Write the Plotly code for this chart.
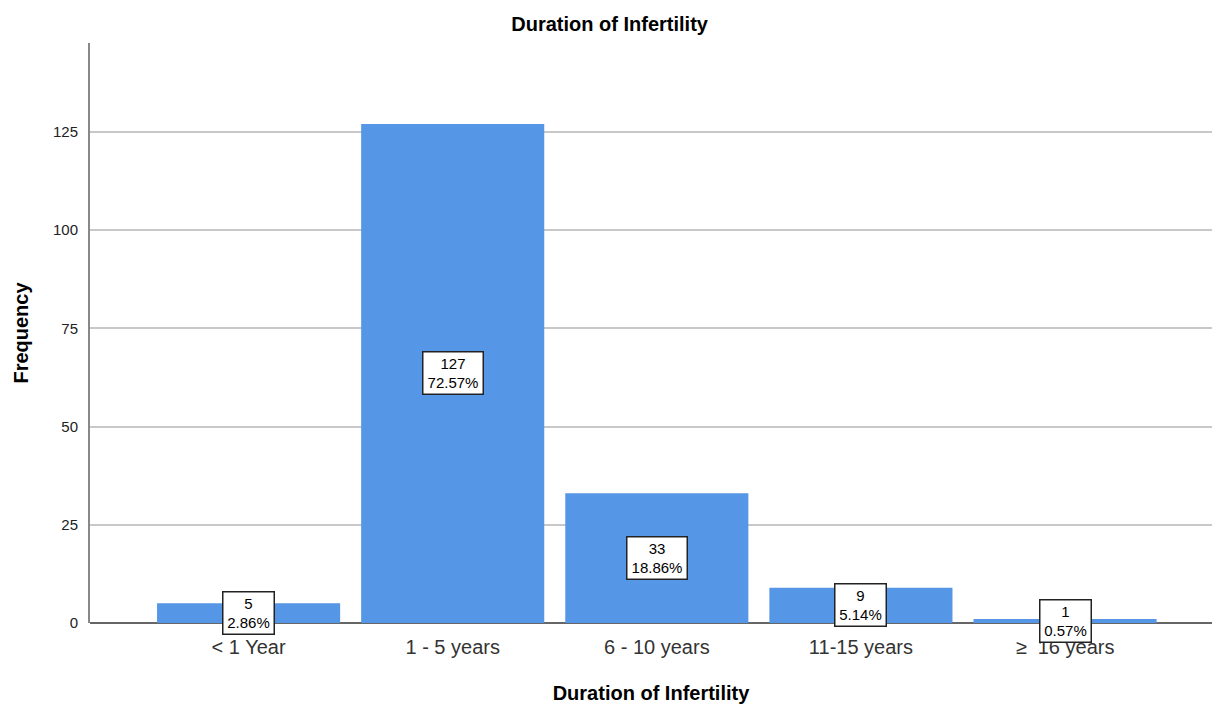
import plotly.graph_objects as go

categories = ["< 1 Year", "1 - 5 years", "6 - 10 years", "11-15 years", "≥  16 years"]
counts = [5, 127, 33, 9, 1]
percents = ["2.86%", "72.57%", "18.86%", "5.14%", "0.57%"]
y_ticks = [0, 25, 50, 75, 100, 125]

FONT = "Liberation Sans, Arial, sans-serif"

fig = go.Figure()
fig.add_trace(go.Bar(
    x=list(range(len(categories))),
    y=counts,
    width=0.897,
    marker=dict(color="#5596E6", line=dict(width=0)),
    hoverinfo="skip",
))

for i, (c, p) in enumerate(zip(counts, percents)):
    fig.add_annotation(
        x=i, y=c / 2, xref="x", yref="y",
        text=f"{c}<br>{p}", showarrow=False,
        width=9 * len(p) + 1,
        font=dict(family=FONT, size=15, color="#000000"),
        bgcolor="#ffffff", bordercolor="#222222", borderwidth=1.5, borderpad=2,
    )

fig.update_layout(
    width=1212, height=705,
    margin=dict(l=90, r=0, t=43, b=82),
    plot_bgcolor="#ffffff", paper_bgcolor="#ffffff",
    showlegend=False,
    hovermode=False,
    title=dict(text="<b>Duration of Infertility</b>", x=0.503, xanchor="center",
               y=0.966, yanchor="middle", yref="container",
               font=dict(family=FONT, size=20, color="#000000")),
    font=dict(family=FONT),
)

fig.update_xaxes(
    range=[-0.777, 4.72],
    tickmode="array", tickvals=list(range(len(categories))), ticktext=categories,
    tickfont=dict(family=FONT, size=20, color="#333333"),
    showgrid=False, zeroline=False, showline=False, ticks="",
    ticklabelstandoff=10,
    title=dict(text="<b>Duration of Infertility</b>", standoff=28,
               font=dict(family=FONT, size=20, color="#000000")),
)

fig.update_yaxes(
    range=[0, 147.6],
    tickmode="array", tickvals=y_ticks, ticktext=[str(v) for v in y_ticks],
    tickfont=dict(family=FONT, size=15, color="#222222"),
    showgrid=True, gridcolor="#c8c8c8", gridwidth=1.5,
    zeroline=True, zerolinecolor="#666666", zerolinewidth=1.5,
    showline=True, linecolor="#888888", linewidth=2, ticks="",
    ticklabelstandoff=7,
    title=dict(text="<b>Frequency</b>", standoff=19,
               font=dict(family=FONT, size=20, color="#000000")),
)

fig.write_html(
    "out.html",
    config={"displayModeBar": False},
    post_script="document.body.style.margin='0';document.body.style.overflow='hidden';",
)
